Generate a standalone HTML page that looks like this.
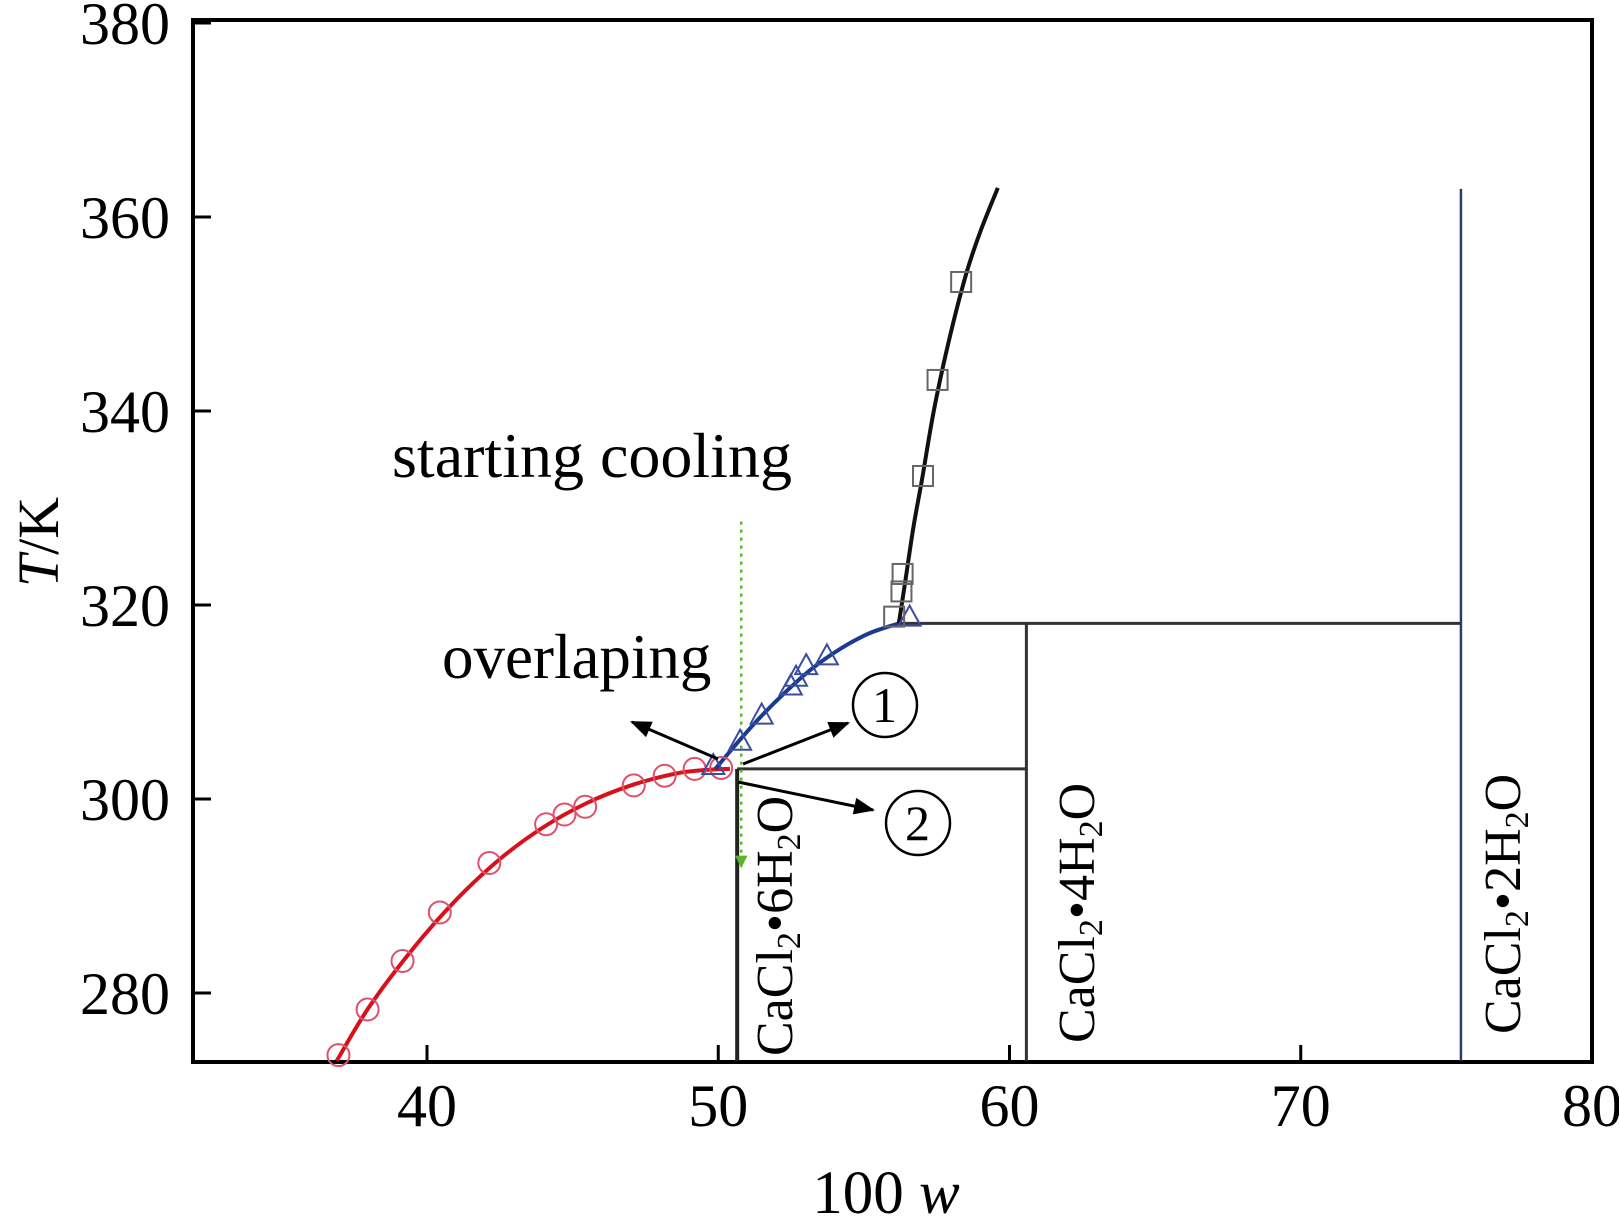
<!DOCTYPE html>
<html><head><meta charset="utf-8"><style>
html,body{margin:0;padding:0;background:#fff}
svg{display:block;font-family:"Liberation Serif",serif}
</style></head><body>
<svg id="chart" width="1619" height="1224" viewBox="0 0 1619 1224" xmlns="http://www.w3.org/2000/svg">
<defs>
<marker id="ah" viewBox="0 0 10 10" refX="9" refY="5" markerWidth="8" markerHeight="7" orient="auto"><path d="M0,1 L10,5 L0,9 Z" fill="#000"/></marker>
<marker id="ahg" viewBox="0 0 10 10" refX="9" refY="5" markerWidth="5" markerHeight="6" orient="auto"><path d="M0,0 L10,5 L0,10 Z" fill="#5ab52a"/></marker>
</defs>
<g id="plot"></g>
</svg>
<script>
const xTicks=[40,50,60,70,80];
const yTicks=[280,300,320,340,360,380];
const redX=[36.96,37.96,39.16,40.44,42.14,44.09,44.72,45.43,47.10,48.16,49.19,50.1];
const redT=[273.6,278.3,283.3,288.3,293.4,297.4,298.4,299.2,301.4,302.4,303.1,303.2];
const redCurveX=[36.9,38,39.5,41,42.5,44,45.5,47,48.5,49.6,50.4];
const redCurveT=[273,278.5,284.5,289.6,293.8,297.1,299.6,301.4,302.6,303.0,303.1];
const blueX=[49.83,50.75,51.49,52.49,52.67,53.02,53.73,56.57];
const blueT=[303.4,305.9,308.6,311.6,312.5,313.7,314.7,318.7];
const blueCurveX=[49.9,50.6,51.4,52.3,53.2,54.2,55.2,56.2];
const blueCurveT=[303.1,305.6,308.3,311.0,313.4,315.5,317.1,318.1];
const blackX=[56.04,56.29,56.33,57.03,57.53,58.34];
const blackT=[318.8,321.4,323.2,333.3,343.2,353.3];
const blackCurveX=[56.2,56.4,56.7,57.0,57.4,57.9,58.5,59.0,59.6];
const blackCurveT=[318.1,322,328,333,340,347,354,358.5,363];
const eutecticT=303.1, peritecticT=318.1;
const hexX=50.65, tetraX=60.58, diX=75.5, diTop=362.9;
const coolX=50.79, coolTop=328.6, coolBottom=293;

const L=193,R=1592,TOP=20,B=1062;
const X=v=>427+(v-40)*29.125;
const Y=t=>993-(t-280)*9.7;
const NS="http://www.w3.org/2000/svg";
const g=document.getElementById('plot');
function mk(tag,attrs,parent){const e=document.createElementNS(NS,tag);for(const k in attrs)e.setAttribute(k,attrs[k]);(parent||g).appendChild(e);return e;}

let e=mk('rect',{x:L,y:TOP,width:R-L,height:B-TOP,fill:'none',stroke:'#000','stroke-width':4});


xTicks.forEach(v=>{
  let t=mk('line',{x1:X(v),x2:X(v),y1:B,y2:B-17,stroke:'#000','stroke-width':3});
  
  
  let l=mk('text',{x:X(v),y:1126,'font-size':60,'text-anchor':'middle'});l.textContent=v;
  
  
});
yTicks.forEach(v=>{
  let t=mk('line',{x1:L,x2:L+18,y1:Y(v),y2:Y(v),stroke:'#000','stroke-width':3});
  
  
  let l=mk('text',{x:170,y:Y(v)+21,'font-size':60,'text-anchor':'end'});l.textContent=v;
  
  
});
let xt=mk('text',{x:886,y:1213,'font-size':61,'text-anchor':'middle'});
xt.innerHTML='100 <tspan font-style="italic">w</tspan>';


let yt=mk('text',{x:0,y:0,'font-size':58,'text-anchor':'middle',transform:'translate(58,542) rotate(-90)'});
yt.innerHTML='<tspan font-style="italic">T</tspan>/K';



function ln(x1,t1,x2,t2,c,w,name){let l=mk('line',{x1:X(x1),y1:Y(t1),x2:X(x2),y2:Y(t2),stroke:c,'stroke-width':w});
  
  return l;}
ln(hexX,eutecticT,tetraX,eutecticT,'#333',3,'eutectic-line');
ln(56.2,peritecticT,diX,peritecticT,'#333',3,'peritectic-line');
ln(hexX,eutecticT,hexX,273,'#222',4,'hexahydrate-line');
ln(tetraX,peritecticT,tetraX,273,'#333',3,'tetrahydrate-line');
ln(diX,diTop,diX,273,'#2a3a6a',2.5,'dihydrate-line');
let cl=ln(coolX,coolTop,coolX,coolBottom,'#5ab52a',2.5,'cooling-path');
cl.setAttribute('stroke-dasharray','3 5');cl.setAttribute('marker-end','url(#ahg)');

function curve(xs,ts,c,name){
  const p=xs.map((v,i)=>[X(v),Y(ts[i])]);
  let d='M'+p[0][0]+','+p[0][1];
  for(let i=0;i<p.length-1;i++){
    const p0=p[i-1]||p[i],p1=p[i],p2=p[i+1],p3=p[i+2]||p2;
    d+=' C'+(p1[0]+(p2[0]-p0[0])/6)+','+(p1[1]+(p2[1]-p0[1])/6)+' '+(p2[0]-(p3[0]-p1[0])/6)+','+(p2[1]-(p3[1]-p1[1])/6)+' '+p2[0]+','+p2[1];
  }
  let pa=mk('path',{d:d,fill:'none',stroke:c,'stroke-width':4});
  
  
}
curve(redCurveX,redCurveT,'#d8101c','hexahydrate-solubility-curve');
curve(blueCurveX,blueCurveT,'#1a3a94','tetrahydrate-solubility-curve');
curve(blackCurveX,blackCurveT,'#111','dihydrate-solubility-curve');

redX.forEach((v,i)=>{let c=mk('circle',{cx:X(v),cy:Y(redT[i]),r:11,fill:'none',stroke:'#e0506a','stroke-width':2});
  
  });
blueX.forEach((v,i)=>{const x=X(v),y=Y(blueT[i]);let t=mk('polygon',{points:`${x},${y-12} ${x-11},${y+8} ${x+11},${y+8}`,fill:'none',stroke:'#3a4ea0','stroke-width':2});
  
  });
blackX.forEach((v,i)=>{let s=mk('rect',{x:X(v)-10,y:Y(blackT[i])-10,width:20,height:20,fill:'none',stroke:'#666','stroke-width':2});
  
  });

function txt(s,x,y,size,name,tr){let t=mk('text',{x:x,y:y,'font-size':size});if(tr)t.setAttribute('transform',tr);t.innerHTML=s;
  
  return t;}
txt('starting cooling',392,477,64,'starting-cooling-label');
txt('overlaping',442,678,63,'overlaping-label');
function arrow(x1,y1,x2,y2,name){let a=mk('line',{x1,y1,x2,y2,stroke:'#000','stroke-width':3,'marker-end':'url(#ah)'});
  
  }
arrow(718,759,632,722,'overlaping-arrow');
arrow(743,764,848,723,'arrow-1');
arrow(738,782,873,810,'arrow-2');
[[885,705,'1','label-1-circle'],[918,823,'2','label-2-circle']].forEach(c=>{
  let ci=mk('circle',{cx:c[0],cy:c[1],r:32,fill:'#fff',stroke:'#000','stroke-width':2.5});
  
  
  txt(c[2],c[0]-13,c[1]+17,50,c[3]+'-text');
});
const sub='<tspan font-size="34" dy="8">2</tspan><tspan dy="-8">';
txt('CaCl'+sub+'•6H</tspan>'+sub+'O</tspan>',0,0,52,'hexahydrate-label','translate(792,1056) rotate(-90)');
txt('CaCl'+sub+'•4H</tspan>'+sub+'O</tspan>',0,0,52,'tetrahydrate-label','translate(1094,1043) rotate(-90)');
txt('CaCl'+sub+'•2H</tspan>'+sub+'O</tspan>',0,0,52,'dihydrate-label','translate(1520,1034) rotate(-90)');
</script>
</body></html>
